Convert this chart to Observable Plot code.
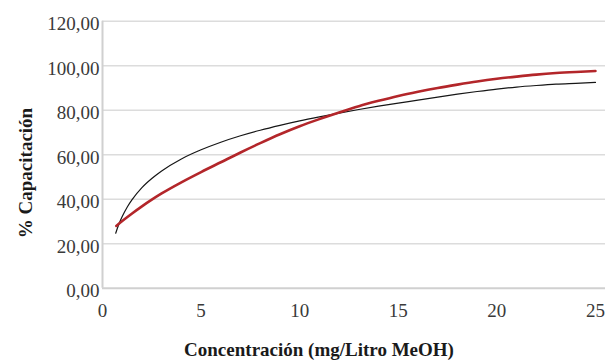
<!DOCTYPE html>
<html><head><meta charset="utf-8">
<script src="https://cdn.jsdelivr.net/npm/d3@7"></script>
<script src="https://cdn.jsdelivr.net/npm/@observablehq/plot@0.6"></script>
<style>body{margin:0;background:#fff;} svg{display:block;} svg text{font-family:'Liberation Serif', 'Times New Roman', serif !important;}</style>
</head><body><div id="chart"></div>
<script>
// Values
const blackX = [0.67, 0.75, 0.85, 1, 1.25, 1.5, 2, 2.5, 3, 4, 5, 6, 7, 8, 9, 10, 11, 12, 13, 14, 15, 16, 17, 18, 19, 20, 21, 22, 23, 24, 25];
const blackY = [24.7, 26.8, 29.2, 32.2, 36.4, 39.8, 45.2, 49.3, 52.7, 58.1, 62.2, 65.6, 68.5, 71, 73.2, 75.2, 77, 78.7, 80.3, 81.8, 83.2, 84.5, 85.9, 87.2, 88.4, 89.5, 90.4, 91.1, 91.7, 92.1, 92.5];
const redX = [0.7, 1, 1.5, 2, 2.5, 3, 4, 5, 6, 7, 8, 9, 10, 11, 12, 13, 14, 15, 16, 17, 18, 19, 20, 21, 22, 23, 24, 25];
const redY = [28, 30.2, 33.6, 36.8, 39.8, 42.6, 47.6, 52.2, 56.6, 61, 65.2, 69.2, 72.8, 76, 79, 81.8, 84.2, 86.4, 88.3, 90, 91.5, 92.9, 94.1, 95.1, 96, 96.7, 97.2, 97.6];
const xTicks = [0, 5, 10, 15, 20, 25];
const yTicks = [0, 20, 40, 60, 80, 100, 120];
const xLabel = "Concentración (mg/Litro MeOH)";
const yLabel = "% Capacitación";

const black = blackX.map((x, i) => ({x, y: blackY[i]}));
const red = redX.map((x, i) => ({x, y: redY[i]}));

const plot = Plot.plot({
  width: 605, height: 361,
  marginLeft: 102, marginRight: 0, marginTop: 20.7, marginBottom: 73.3,
  style: {fontFamily: "'Liberation Serif', serif", fontSize: "19px", color: "#3a3a3a", background: "#fff", overflow: "visible"},
  x: {domain: [0, 25.51], label: null},
  y: {domain: [0, 120], label: null},
  marks: [
    Plot.ruleY(yTicks.slice(1), {stroke: "#dcdcdc", strokeWidth: 1.6, strokeOpacity: 1}),
    Plot.ruleY([0], {stroke: "#d0d0d0", strokeWidth: 2, strokeOpacity: 1}),
    Plot.ruleX([0], {y1: 0, y2: 120, stroke: "#d0d0d0", strokeWidth: 2, strokeOpacity: 1}),
    Plot.axisX({ticks: xTicks, tickSize: 0, tickPadding: 15, tickFormat: d => String(d), label: null, fill: "#3a3a3a"}),
    Plot.axisY({ticks: yTicks, tickSize: 0, tickPadding: 3, dy: 3, tickFormat: d => d.toFixed(2).replace(".", ","), label: null, fill: "#3a3a3a"}),
    Plot.line(black, {x: "x", y: "y", stroke: "#161616", strokeWidth: 1.2, curve: "monotone-x"}),
    Plot.line(red, {x: "x", y: "y", stroke: "#b3262a", strokeWidth: 2.6, curve: "monotone-x"})
  ]
});

const svg = d3.select(plot);
svg.append("text")
  .attr("x", 319).attr("y", 356)
  .attr("text-anchor", "middle")
  .attr("font-weight", "bold").attr("font-size", 19)
  .attr("fill", "#1a1a1a")
  .text(xLabel);
svg.append("text")
  .attr("transform", "translate(32,173) rotate(-90)")
  .attr("text-anchor", "middle")
  .attr("font-weight", "bold").attr("font-size", 19)
  .attr("fill", "#1a1a1a")
  .text(yLabel);

document.getElementById("chart").appendChild(plot);
</script>
</body></html>
